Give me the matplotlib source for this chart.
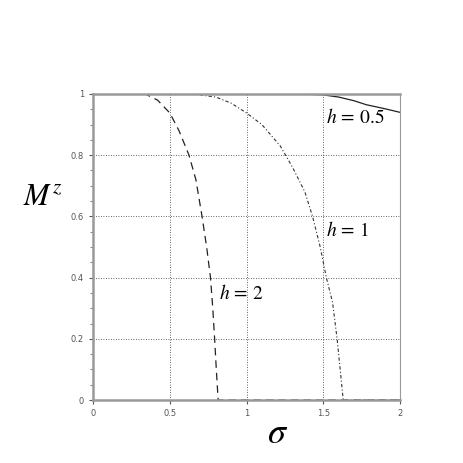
import matplotlib.pyplot as plt
from matplotlib.ticker import MultipleLocator

plt.rcParams['mathtext.fontset'] = 'stix'

# values
sig_h2 = [0.0, 0.34, 0.42, 0.5, 0.56, 0.625, 0.67, 0.71, 0.74, 0.765, 0.78, 0.792, 0.803, 0.815, 2.0]
mz_h2 = [1.0, 1.0, 0.98, 0.938, 0.88, 0.8, 0.72, 0.6, 0.5, 0.4, 0.3, 0.2, 0.1, 0.0, 0.0]

sig_h1 = [0.0, 0.65, 0.8, 0.9, 1.0, 1.1, 1.22, 1.3, 1.38, 1.43, 1.48, 1.52, 1.56, 1.59, 1.61, 1.63, 2.0]
mz_h1 = [1.0, 1.0, 0.99, 0.97, 0.938, 0.9, 0.83, 0.76, 0.68, 0.6, 0.5, 0.4, 0.32, 0.2, 0.1, 0.0, 0.0]

sig_h05 = [0.0, 1.3, 1.4, 1.5, 1.6, 1.7, 1.78, 1.9, 2.0]
mz_h05 = [1.0, 1.0, 0.999, 0.997, 0.99, 0.978, 0.965, 0.952, 0.94]

fig = plt.figure(figsize=(4.63, 4.63), dpi=100)
ax = fig.add_axes([0.201, 0.136, 0.663, 0.661])

ax.plot(sig_h05, mz_h05, color='#222222', lw=0.9)
ax.plot(sig_h1, mz_h1, color='#333333', lw=0.8, linestyle=(0, (3, 2, 1, 2)))
ax.plot(sig_h2, mz_h2, color='#222222', lw=0.9, linestyle=(0, (6, 4)))

ax.set_xlim(0, 2)
ax.set_ylim(0, 1)
ax.set_xticks([0, 0.5, 1, 1.5, 2])
ax.set_xticklabels(['0', '0.5', '1', '1.5', '2'])
ax.set_yticks([0, 0.2, 0.4, 0.6, 0.8, 1])
ax.set_yticklabels(['0', '0.2', '0.4', '0.6', '0.8', '1'])
ax.yaxis.set_minor_locator(MultipleLocator(0.05))
ax.tick_params(axis='both', which='major', labelsize=6, colors='#555555', length=3, width=0.8)
ax.tick_params(axis='y', which='minor', length=2, width=0.8, colors='#888888')

ax.grid(True, color='#333333', linestyle=(0, (1, 2)), lw=0.6)

for s in ['left', 'bottom', 'top']:
    ax.spines[s].set_color('#999999')
    ax.spines[s].set_linewidth(1.8)
ax.spines['right'].set_color('#999999')
ax.spines['right'].set_linewidth(0.8)

ax.text(1.52, 0.905, r'$h\,=\,0.5$', fontsize=14)
ax.text(1.52, 0.535, r'$h\,=\,1$', fontsize=14)
ax.text(0.82, 0.33, r'$h\,=\,2$', fontsize=14)

fig.text(0.05, 0.575, r'$M^z$', fontsize=22, ha='left', va='center')
fig.text(0.6, 0.065, r'$\sigma$', fontsize=26, ha='center', va='center')

fig.savefig('out.png', dpi=100)
